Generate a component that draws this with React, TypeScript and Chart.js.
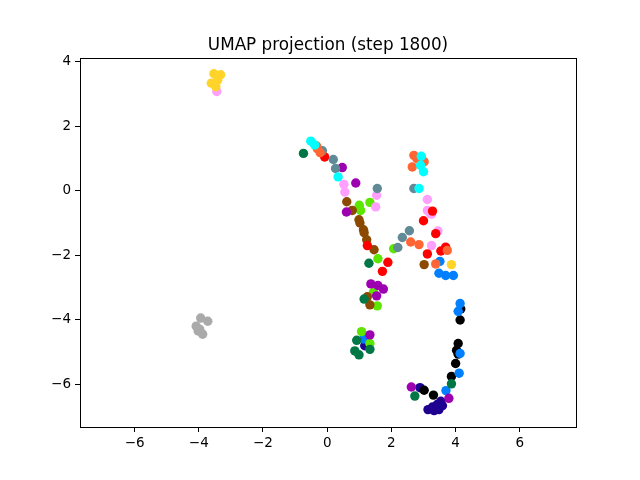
import React, { useEffect, useRef } from "react";
import { Chart, registerables } from "chart.js";

Chart.register(...registerables);

const TITLE = "UMAP projection (step 1800)";
const X_TICKS = [-6, -4, -2, 0, 2, 4, 6];
const Y_TICKS = [-6, -4, -2, 0, 2, 4];

const grey = [[-3.94, -3.95], [-3.72, -4.05], [-4.08, -4.2], [-4.02, -4.35], [-3.88, -4.45], [-3.97, -4.3]];
const yellow = [[-3.53, 3.63], [-3.32, 3.6], [-3.41, 3.44], [-3.61, 3.34], [-3.47, 3.23], [3.87, -2.29]];
const pink = [[-3.44, 3.08], [0.52, 0.2], [0.55, -0.04], [1.54, -0.14], [1.51, -0.5], [3.12, -0.27], [3.12, -0.61], [3.25, -0.73], [3.2, -0.69], [3.45, -1.25], [3.25, -1.7]];
const cyan = [[-0.51, 1.54], [-0.39, 1.42], [0.34, 0.43], [2.93, 1.07], [2.91, 0.79], [3.0, 0.59], [2.86, 0.07]];
const orange = [[-0.33, 1.39], [-0.31, 1.31], [-0.22, 1.18], [2.7, 1.1], [2.79, 1.0], [3.02, 0.9], [2.65, 0.74], [2.6, -1.59], [2.86, -1.67], [3.74, -1.85], [3.38, -2.27]];
const red = [[-0.08, 1.05], [3.28, -0.63], [3.0, -0.93], [1.25, -1.7], [1.89, -2.22], [1.72, -2.5], [3.38, -1.33], [3.12, -1.96], [3.69, -1.75], [3.54, -1.87]];
const slate = [[-0.15, 1.24], [0.19, 0.97], [0.26, 0.69], [1.56, 0.07], [2.7, 0.07], [2.34, -1.45], [2.56, -1.24], [2.2, -1.76]];
const darkGreen = [[-0.74, 1.16], [1.3, -2.25], [1.15, -3.36], [0.92, -4.64], [1.33, -4.92], [0.86, -4.97], [0.99, -5.09], [3.87, -5.99], [2.73, -6.37]];
const purple = [[0.47, 0.72], [0.89, 0.24], [0.6, -0.66], [1.36, -2.89], [1.58, -2.94], [1.75, -3.05], [1.54, -3.26], [1.33, -4.47], [2.62, -6.09], [3.79, -6.44]];
const brown = [[0.61, -0.34], [0.78, -0.61], [0.99, -0.9], [1.02, -1.0], [1.13, -1.21], [1.15, -1.3], [1.23, -1.52], [1.46, -1.83], [3.02, -2.29], [1.25, -3.29], [1.33, -3.54]];
const lime = [[1.0, -0.45], [1.33, -0.36], [1.04, -0.61], [1.58, -2.11], [2.07, -1.8], [1.44, -3.15], [1.56, -3.57], [1.07, -4.37], [1.33, -4.74]];
const blue = [[3.51, -2.19], [3.48, -2.56], [3.69, -2.63], [3.93, -2.63], [4.14, -3.5], [4.08, -3.74], [4.14, -5.05], [4.11, -5.66], [3.7, -6.2], [1.13, -4.6]];
const black = [[4.16, -3.67], [4.14, -4.01], [4.08, -4.74], [4.03, -4.95], [4.08, -5.07], [4.0, -5.36], [3.87, -5.76], [3.02, -6.19], [3.31, -6.34]];
const navy = [[1.17, -4.81], [2.89, -6.11], [3.14, -6.79], [3.28, -6.71], [3.43, -6.63], [3.54, -6.53], [3.48, -6.79], [3.33, -6.82], [3.59, -6.67]];

const GROUPS: [number[][], string][] = [
  [grey, "#AAAAAA"],
  [yellow, "#FFD42A"],
  [cyan, "#00FFFF"],
  [orange, "#FF6633"],
  [slate, "#5F8A96"],
  [red, "#FF0000"],
  [pink, "#FFA0FF"],
  [darkGreen, "#007744"],
  [purple, "#9C00B0"],
  [brown, "#8B4A00"],
  [lime, "#5CE600"],
  [blue, "#0080FF"],
  [black, "#000000"],
  [navy, "#1F0090"],
];

const minus = (v: number) => String(v).replace("-", "\u2212");

export default function App() {
  const ref = useRef<HTMLCanvasElement>(null);
  useEffect(() => {
    const frame = {
      id: "frame",
      afterDraw(chart: any) {
        const { ctx, chartArea: a } = chart;
        ctx.save();
        ctx.strokeStyle = "#000";
        ctx.lineWidth = 1;
        ctx.strokeRect(Math.round(a.left) + 0.5, Math.round(a.top) + 0.5, Math.round(a.right - a.left), Math.round(a.bottom - a.top));
        ctx.fillStyle = "#000";
        ctx.font = "16.8px 'DejaVu Sans'";
        ctx.textAlign = "center";
        ctx.textBaseline = "alphabetic";
        ctx.fillText(TITLE, (a.left + a.right) / 2, 50);
        ctx.restore();
      },
    };
    const chart = new Chart(ref.current!, {
      type: "scatter",
      data: {
        datasets: GROUPS.map(([pts, color]) => ({
          data: pts.map(([x, y]) => ({ x, y })),
          backgroundColor: color,
          borderColor: color,
          borderWidth: 0,
          pointRadius: 4.7,
          pointHoverRadius: 4.7,
        })),
      },
      options: {
        animation: false,
        responsive: false,
        layout: { padding: { top: 58, right: 64, bottom: 0, left: 0 } },
        plugins: { legend: { display: false }, tooltip: { enabled: false }, title: { display: false } },
        scales: {
          x: {
            type: "linear",
            min: -7.7,
            max: 7.75,
            afterBuildTicks: (s: any) => { s.ticks = X_TICKS.map((v) => ({ value: v })); },
            afterFit: (s: any) => { s.height = 53; },
            grid: { drawOnChartArea: false, drawTicks: true, tickLength: 5, tickColor: "#000", lineWidth: 1 },
            border: { display: false },
            ticks: { color: "#000", padding: 3, maxRotation: 0, font: { family: "DejaVu Sans", size: 13.5 }, callback: (v: any) => minus(v) },
          },
          y: {
            type: "linear",
            min: -7.33,
            max: 4.12,
            afterBuildTicks: (s: any) => { s.ticks = Y_TICKS.map((v) => ({ value: v })); },
            afterFit: (s: any) => { s.width = 80; },
            grid: { drawOnChartArea: false, drawTicks: true, tickLength: 5, tickColor: "#000", lineWidth: 1 },
            border: { display: false },
            ticks: { color: "#000", padding: 4, font: { family: "DejaVu Sans", size: 13.5 }, callback: (v: any) => minus(v) },
          },
        },
      },
      plugins: [frame],
    } as any);
    return () => chart.destroy();
  }, []);
  return (
    <div style={{ position: "fixed", left: 0, top: 0, width: 640, height: 480, background: "#fff" }}>
      <canvas ref={ref} width={640} height={480} style={{ width: 640, height: 480 }} />
    </div>
  );
}
